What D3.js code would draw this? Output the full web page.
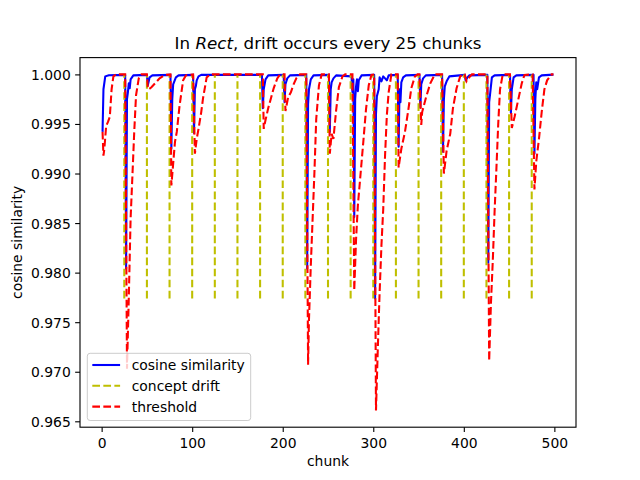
<!DOCTYPE html>
<html>
<head>
<meta charset="utf-8">
<script src="https://cdn.jsdelivr.net/npm/d3@7"></script>
<style>
  body { margin: 0; background: #fff; }
  text { font-family: "DejaVu Sans", sans-serif; }
</style>
</head>
<body>
<div id="chart"></div>
<script>
// cosine similarity per chunk, [chunk, value]
var cosSim = [
  [1, 0.9942], [2, 0.9985], [4, 0.9998], [8, 0.99992], [26, 0.99995],
  [27, 0.9804], [28, 0.9975], [29, 0.9982], [30, 0.9991], [31, 0.9986], [32, 0.9995], [35, 0.9999], [50, 0.99995],
  [51, 0.9989], [52, 0.9993], [53, 0.9997], [56, 0.9999], [76, 0.99995],
  [77, 0.9925], [78, 0.9975], [79, 0.9990], [82, 0.9997], [85, 0.9999], [101, 0.99995],
  [102, 0.9941], [103, 0.9985], [104, 0.9988], [105, 0.9994], [107, 0.9998], [110, 0.99995], [177, 0.99995],
  [178, 0.9966], [179, 0.9985], [181, 0.9995], [184, 0.9999], [201, 0.99995],
  [202, 0.9972], [203, 0.9990], [205, 0.9996], [208, 0.9999], [226, 0.99995],
  [227, 0.9804], [228, 0.9970], [229, 0.9985], [231, 0.9995], [234, 0.9999], [251, 0.99995],
  [252, 0.9942], [253, 0.9985], [254, 0.9992], [256, 0.9996], [259, 0.9999], [276, 0.9998],
  [277, 0.9982], [278, 0.9995], [279, 0.9856], [280, 0.9975], [281, 0.9988], [282, 0.9995], [283, 0.9983],
  [284, 0.9994], [287, 0.9999], [301, 0.99995],
  [302, 0.9774], [303, 0.9960], [304, 0.9978], [306, 0.9985], [307, 0.9997], [309, 0.9993], [311, 0.9998],
  [315, 0.9994], [317, 0.9999], [327, 0.99995],
  [328, 0.9927], [329, 0.9985], [330, 0.9972], [331, 0.9992], [333, 0.9997], [336, 0.9999], [351, 0.99995],
  [352, 0.9967], [353, 0.9990], [355, 0.9996], [358, 0.9999], [376, 0.99995],
  [377, 0.9922], [378, 0.9975], [379, 0.9988], [381, 0.9993], [384, 0.9998], [401, 0.99995],
  [402, 0.9994], [404, 0.9997], [406, 0.9999], [426, 0.99995],
  [427, 0.9810], [428, 0.9972], [429, 0.9980], [431, 0.9997], [434, 0.9999], [451, 0.99995],
  [452, 0.9961], [453, 0.9985], [455, 0.9997], [458, 0.9999], [477, 0.99995],
  [478, 0.9920], [479, 0.9975], [480, 0.9992], [481, 0.9985], [483, 0.9997], [486, 0.9999], [499, 0.99998]
];

// threshold per chunk
var threshold = [
  [1, 0.9942], [2, 0.9918], [3, 0.9925], [5, 0.9948], [7, 0.9952], [9, 0.9957], [11, 0.9985], [13, 0.9998], [16, 1.0], [26, 1.0],
  [28, 0.9703], [30, 0.9775], [32, 0.9855], [34, 0.9898], [36, 0.9942], [38, 0.9979], [41, 0.9996], [44, 1.0], [50, 1.0],
  [51, 0.9986], [52, 0.9985], [55, 0.9987], [59, 0.9991], [64, 0.9996], [70, 0.99995], [76, 1.0],
  [77, 0.9888], [79, 0.9910], [81, 0.9932], [83, 0.9942], [86, 0.9968], [90, 0.9994], [93, 0.9999], [101, 1.0],
  [103, 0.9920], [105, 0.9935], [107, 0.9945], [110, 0.9962], [112, 0.9976], [116, 0.9997], [120, 1.0], [178, 1.0],
  [179, 0.9945], [181, 0.9954], [184, 0.9966], [187, 0.9976], [190, 0.9986], [194, 0.9996], [197, 1.0], [202, 1.0],
  [203, 0.9963], [206, 0.9977], [209, 0.9982], [212, 0.9990], [215, 0.9996], [219, 1.0], [226, 1.0],
  [228, 0.9707], [229, 0.9753], [231, 0.9807], [233, 0.9854], [235, 0.9901], [237, 0.9955], [240, 0.9989], [243, 1.0], [251, 1.0],
  [252, 0.9920], [254, 0.9940], [256, 0.9935], [259, 0.9964], [262, 0.9987], [266, 0.9998], [269, 1.0], [277, 1.0],
  [279, 0.9782], [281, 0.9834], [283, 0.9868], [286, 0.9900], [289, 0.9932], [292, 0.9965], [295, 0.9989], [298, 0.99995], [301, 1.0],
  [303, 0.9661], [305, 0.9723], [307, 0.9780], [309, 0.9827], [311, 0.9864], [313, 0.9918], [315, 0.9959], [317, 0.9982], [320, 1.0], [327, 1.0],
  [328, 0.9906], [331, 0.9925], [335, 0.9942], [339, 0.9966], [342, 0.9986], [346, 0.9998], [349, 1.0], [351, 1.0],
  [353, 0.9949], [354, 0.9962], [358, 0.9976], [363, 0.9991], [368, 1.0], [376, 1.0],
  [378, 0.9900], [381, 0.9923], [385, 0.9940], [388, 0.9966], [392, 0.9986], [396, 0.9998], [399, 1.0], [401, 1.0],
  [403, 0.9993], [406, 0.9997], [409, 1.0], [426, 1.0],
  [428, 0.9711], [430, 0.9770], [432, 0.9812], [434, 0.9862], [436, 0.9905], [438, 0.9950], [440, 0.9985], [443, 1.0], [451, 1.0],
  [453, 0.9946], [456, 0.9957], [460, 0.9974], [464, 0.9991], [467, 0.99995], [476, 1.0],
  [478, 0.9884], [480, 0.9912], [483, 0.9935], [486, 0.9962], [489, 0.9985], [492, 0.9994], [497, 1.0], [499, 1.0]
];

var driftChunks = [25, 50, 75, 100, 125, 150, 175, 200, 225, 250, 275, 300, 325, 350, 375, 400, 425, 450, 475];
var xTicks = [0, 100, 200, 300, 400, 500];
var yTicks = [0.965, 0.970, 0.975, 0.980, 0.985, 0.990, 0.995, 1.000];
var legendLabels = ["cosine similarity", "concept drift", "threshold"];

var margin = {top: 57.6, right: 64, bottom: 52.8, left: 80},
    outerWidth = 640,
    outerHeight = 480,
    width = outerWidth - margin.left - margin.right,
    height = outerHeight - margin.top - margin.bottom;

var dash = "7.7,3.33";
var fs = 13.9;

// matplotlib-style 5% padding around the data
var allX = cosSim.concat(threshold).map(function(d) { return d[0]; });
var allY = cosSim.concat(threshold).map(function(d) { return d[1]; });
var x0 = d3.min(allX), x1 = d3.max(allX);
var y0 = d3.min(allY), y1 = d3.max(allY);
var px = (x1 - x0) * 0.05, py = (y1 - y0) * 0.05;

var x = d3.scaleLinear()
    .domain([x0 - px, x1 + px])
    .range([0, width]);

var y = d3.scaleLinear()
    .domain([y0 - py, y1 + py])
    .range([height, 0]);

var svg = d3.select("#chart")
    .append("svg")
        .attr("width", outerWidth)
        .attr("height", outerHeight);

svg.append("rect")
    .attr("width", outerWidth)
    .attr("height", outerHeight)
    .attr("fill", "#fff");

var g = svg.append("g")
    .attr("transform", "translate(" + margin.left + "," + margin.top + ")");

g.append("clipPath").attr("id", "clip")
  .append("rect")
    .attr("width", width)
    .attr("height", height);

var line = d3.line()
    .x(function(d) { return x(d[0]); })
    .y(function(d) { return y(d[1]); });

var plot = g.append("g").attr("clip-path", "url(#clip)");

plot.append("path")
    .datum(cosSim)
    .attr("d", line)
    .attr("fill", "none")
    .attr("stroke", "#0000ff")
    .attr("stroke-width", 2.08)
    .attr("stroke-linejoin", "round");

var cMin = d3.min(cosSim, function(d) { return d[1]; });
var cMax = d3.max(cosSim, function(d) { return d[1]; });

plot.selectAll(".drift")
    .data(driftChunks)
    .enter().append("path")
    .attr("class", "drift")
    .attr("d", function(d) {
        return "M" + x(d) + "," + y(cMin) + "V" + y(cMax);
    })
    .attr("stroke", "#bfbf00")
    .attr("stroke-width", 2.08)
    .attr("stroke-dasharray", dash);

plot.append("path")
    .datum(threshold)
    .attr("d", line)
    .attr("fill", "none")
    .attr("stroke", "#ff0000")
    .attr("stroke-width", 2.08)
    .attr("stroke-dasharray", dash);

// axes
var xAxis = g.append("g")
    .attr("transform", "translate(0," + height + ")")
    .call(d3.axisBottom(x).tickValues(xTicks).tickSize(4.86).tickPadding(6.4));

var yAxis = g.append("g")
    .call(d3.axisLeft(y).tickValues(yTicks).tickFormat(d3.format(".3f")).tickSize(4.86).tickPadding(4.4));

[xAxis, yAxis].forEach(function(a) {
    a.select(".domain").remove();
    a.selectAll("line").attr("stroke", "#000").attr("stroke-width", 1.11);
    a.selectAll("text")
        .attr("fill", "#000")
        .style("font-size", fs + "px")
        .style("font-family", "DejaVu Sans");
});
yAxis.selectAll("text").attr("dy", "0.36em");

g.append("rect")
    .attr("width", width)
    .attr("height", height)
    .attr("fill", "none")
    .attr("stroke", "#000")
    .attr("stroke-width", 1.11);

// title and labels
var title = svg.append("text")
    .attr("x", margin.left + width / 2)
    .attr("y", 48.5)
    .attr("text-anchor", "middle")
    .style("font-size", "16.7px");
title.append("tspan").text("In ");
title.append("tspan").style("font-style", "italic").text("Rect");
title.append("tspan").text(", drift occurs every 25 chunks");

svg.append("text")
    .attr("x", margin.left + width / 2)
    .attr("y", 466)
    .attr("text-anchor", "middle")
    .style("font-size", fs + "px")
    .text("chunk");

svg.append("text")
    .attr("transform", "translate(22," + (margin.top + height / 2) + ") rotate(-90)")
    .attr("text-anchor", "middle")
    .style("font-size", fs + "px")
    .text("cosine similarity");

// legend
var legend = svg.append("g").attr("transform", "translate(87.3,353.3)");

legend.append("rect")
    .attr("width", 163.4)
    .attr("height", 67.2)
    .attr("rx", 2.8)
    .attr("fill", "#fff")
    .attr("fill-opacity", 0.8)
    .attr("stroke", "#cccccc")
    .attr("stroke-width", 1);

var legendColors = ["#0000ff", "#bfbf00", "#ff0000"];
var legendDash = [null, dash, dash];

var rows = legend.selectAll(".row")
    .data(legendLabels)
    .enter().append("g")
    .attr("transform", function(d, i) { return "translate(0," + (11.7 + i * 20.8) + ")"; });

rows.append("line")
    .attr("x1", 5)
    .attr("x2", 32.8)
    .attr("stroke", function(d, i) { return legendColors[i]; })
    .attr("stroke-width", 2.08)
    .attr("stroke-dasharray", function(d, i) { return legendDash[i]; });

rows.append("text")
    .attr("x", 44.4)
    .attr("y", 5)
    .style("font-size", fs + "px")
    .text(function(d) { return d; });
</script>
</body>
</html>
